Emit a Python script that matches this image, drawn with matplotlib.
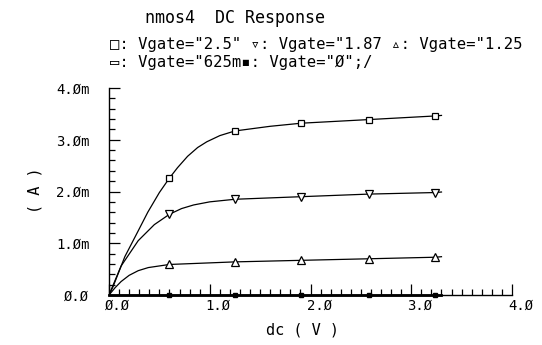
import numpy as np
import matplotlib
matplotlib.use('Agg')
import matplotlib.pyplot as plt
import matplotlib.transforms as mtransforms
from matplotlib.ticker import MultipleLocator, FixedLocator, FixedFormatter

# DC sweep values (V, mA)
vds_25 = [0, 0.04, 0.157, 0.29, 0.385, 0.5, 0.6, 0.68, 0.78, 0.88, 0.97, 1.1, 1.25, 1.6, 1.91, 2.58, 3.24, 3.3]
id_25 = [0, 0.16, 0.74, 1.24, 1.60, 1.98, 2.26, 2.46, 2.68, 2.85, 2.96, 3.08, 3.17, 3.26, 3.32, 3.39, 3.46, 3.47]

vds_187 = [0, 0.12, 0.29, 0.45, 0.6, 0.72, 0.84, 1.0, 1.25, 1.91, 2.58, 3.24, 3.3]
id_187 = [0, 0.56, 1.05, 1.36, 1.56, 1.67, 1.74, 1.80, 1.85, 1.90, 1.95, 1.98, 1.99]

vds_125 = [0, 0.06, 0.12, 0.2, 0.29, 0.39, 0.6, 1.25, 1.91, 2.58, 3.24, 3.3]
id_125 = [0, 0.14, 0.26, 0.38, 0.47, 0.53, 0.59, 0.64, 0.67, 0.70, 0.73, 0.74]

vds_625m = [0, 0.6, 1.25, 1.91, 2.58, 3.24, 3.3]
id_625m = [0, 0, 0, 0, 0, 0, 0]

vds_0 = [0, 3.3]
id_0 = [0, 0]

marker_v = [0.6, 1.25, 1.91, 2.58, 3.24]

x_ticks = [0, 1, 2, 3, 4]
x_labels = ['Ø.Ø', '1.Ø', '2.Ø', '3.Ø', '4.Ø']
y_ticks = [0, 1, 2, 3, 4]
y_labels = ['Ø.Ø', '1.Øm', '2.Øm', '3.Øm', '4.Øm']

title = 'nmos4  DC Response'
legend1 = '□: Vgate="2.5" ▿: Vgate="1.87 ▵: Vgate="1.25'
legend2 = '▭: Vgate="625m▪: Vgate="Ø";/'


def marks(v):
    return [i for i, x in enumerate(v) if x in marker_v]


plt.rcParams['font.family'] = ['DejaVu Sans Mono', 'DejaVu Sans']
fig = plt.figure(figsize=(5.42, 3.45), dpi=100)
ax = fig.add_axes([109 / 542, 1 - 295 / 345, (512 - 109) / 542, (295 - 88) / 345])

lw = 0.9
ax.plot(vds_25, id_25, color='black', lw=lw, marker='s', mfc='white', mec='black',
        ms=5, mew=0.9, markevery=marks(vds_25))
ax.plot(vds_187, id_187, color='black', lw=lw, marker='v', mfc='white', mec='black',
        ms=5.5, mew=0.9, markevery=marks(vds_187))
ax.plot(vds_125, id_125, color='black', lw=lw, marker='^', mfc='white', mec='black',
        ms=5.5, mew=0.9, markevery=marks(vds_125))
ax.plot(vds_625m, id_625m, color='black', lw=2, marker='s', mfc='black', mec='black',
        ms=3, markevery=marks(vds_625m), clip_on=False)
ax.plot(vds_0, id_0, color='black', lw=1, clip_on=False)

ax.set_xlim(0, 4)
ax.set_ylim(0, 4)
for s in ['top', 'right']:
    ax.spines[s].set_visible(False)
for s in ['left', 'bottom']:
    ax.spines[s].set_linewidth(1.0)

ax.xaxis.set_major_locator(FixedLocator(x_ticks))
ax.xaxis.set_major_formatter(FixedFormatter(x_labels))
ax.xaxis.set_minor_locator(MultipleLocator(0.1))
ax.yaxis.set_major_locator(FixedLocator(y_ticks))
ax.yaxis.set_major_formatter(FixedFormatter(y_labels))
ax.yaxis.set_minor_locator(MultipleLocator(0.2))

ax.tick_params(axis='both', which='major', direction='in', length=8, width=0.9,
               labelsize=10, color='black')
ax.tick_params(axis='both', which='minor', direction='in', length=4, width=0.9)
ax.tick_params(axis='x', which='major', pad=3)
ax.tick_params(axis='y', which='major', pad=14)
shift = mtransforms.ScaledTranslation(-4 / 100, 0, fig.dpi_scale_trans)
for lbl in ax.get_xticklabels():
    lbl.set_horizontalalignment('left')
    lbl.set_transform(lbl.get_transform() + shift)

fig.text(145 / 542, 1 - 18 / 345, title, fontsize=12, va='center', ha='left')
fig.text(110 / 542, 1 - 45 / 345, legend1, fontsize=11.2, va='center', ha='left')
fig.text(110 / 542, 1 - 62 / 345, legend2, fontsize=11.2, va='center', ha='left')
fig.text(303 / 542, 1 - 330 / 345, 'dc ( V )', fontsize=11, va='center', ha='center')
fig.text(35 / 542, 1 - 190 / 345, '( A )', fontsize=11, va='center', ha='center',
         rotation=90)

fig.savefig('out.png', dpi=100)
